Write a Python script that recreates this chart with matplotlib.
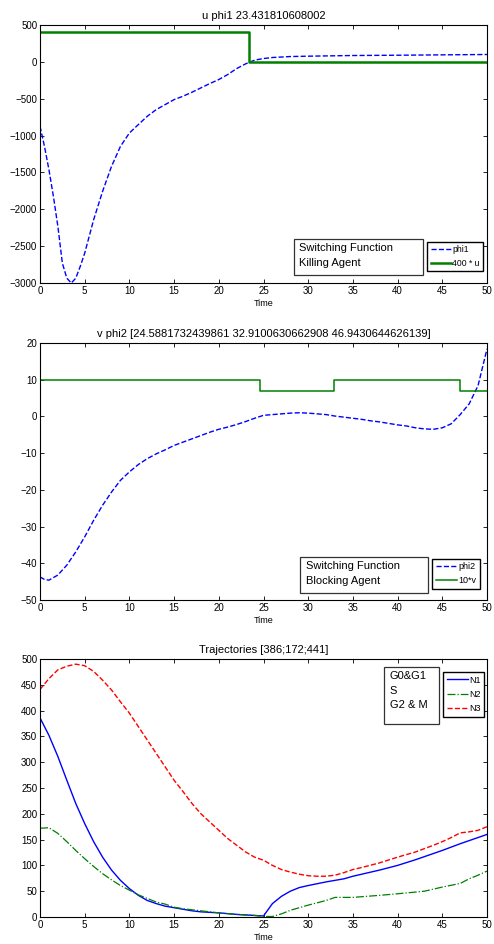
import matplotlib
matplotlib.use('Agg')
import matplotlib.pyplot as plt
from matplotlib.patches import Rectangle

plt.rcParams['font.family'] = ['Liberation Sans', 'DejaVu Sans']

# panel 1: switching function phi1 and 400*u
t1 = [0, 0.5, 1, 1.5, 2, 2.5, 3, 3.5, 4, 4.5, 5, 6, 7, 8, 9, 10, 11, 12, 13, 14, 15, 16,
      17, 18, 19, 20, 21, 22, 23, 24, 25, 26, 28, 30, 35, 40, 45, 50]
phi1 = [-874, -1146, -1463, -1825, -2233, -2730, -2935, -3000, -2935, -2776, -2595, -2142,
        -1757, -1418, -1146, -965, -851, -738, -648, -580, -512, -466, -412, -353, -294,
        -240, -172, -91, -27, 23, 45, 59, 72, 77, 86, 90, 95, 100]
u_t = [0, 23.431810608002, 23.431810608002, 50]
u_val = [400, 400, 0, 0]

# panel 2: switching function phi2 and 10*v
t2 = [0, 0.5, 1, 2, 3, 4, 5, 6, 7, 8, 9, 10, 11, 12, 13, 14, 15, 16, 17, 18, 19, 20, 21,
      22, 23, 24, 25, 26, 27, 28, 29, 30, 31, 32, 33, 34, 35, 36, 37, 38, 39, 40, 41, 42,
      43, 44, 45, 46, 47, 48, 49, 50]
phi2 = [-43.7, -44.4, -44.6, -43.2, -40.5, -36.9, -32.8, -28.3, -24.2, -20.6, -17.4, -15.1,
        -13.1, -11.5, -10.2, -9.1, -7.9, -7.0, -6.1, -5.2, -4.3, -3.5, -2.9, -2.2, -1.4,
        -0.5, 0.3, 0.5, 0.7, 0.9, 1.0, 0.9, 0.7, 0.5, 0.1, -0.2, -0.5, -0.8, -1.2, -1.5,
        -1.9, -2.3, -2.6, -3.1, -3.4, -3.5, -3.1, -2.0, 0.5, 3.4, 8.4, 18.4]
sw = [24.5881732439861, 32.9100630662908, 46.9430644626139]
v_t = [0, sw[0], sw[0], sw[1], sw[1], sw[2], sw[2], 50]
v_val = [10, 10, 7, 7, 10, 10, 7, 7]

# panel 3: trajectories
t3 = [0, 1, 2, 3, 4, 5, 6, 7, 8, 9, 10, 11, 12, 13, 14, 15, 16, 17, 18, 20, 22, 24, 25,
      26, 27, 28, 29, 30, 32, 34, 35, 38, 40, 42, 45, 47, 50]
n1 = [386, 352, 311, 265, 220, 181, 146, 116, 91, 71, 55, 42, 32, 26, 21, 18, 15, 12, 10,
      8, 5, 3, 2, 26, 40, 50, 57, 61, 68, 74, 79, 91, 100, 111, 129, 142, 160]
t3b = [0, 1, 2, 3, 4, 5, 6, 7, 8, 9, 10, 11, 12, 13, 14, 15, 16, 18, 20, 22, 24, 25, 26,
       27, 28, 30, 32, 33, 35, 38, 40, 43, 45, 47, 48, 49, 50]
n2 = [172, 173, 162, 146, 129, 113, 98, 84, 72, 61, 52, 43, 36, 29, 25, 19, 16, 12, 8, 5,
      3, 1, 1, 6, 13, 23, 32, 38, 38, 42, 45, 50, 58, 65, 74, 81, 89]
t3c = [0, 1, 2, 3, 4, 5, 6, 7, 8, 9, 10, 11, 12, 13, 14, 15, 16, 17, 18, 19, 20, 21, 22,
       23, 24, 25, 26, 27, 28, 29, 30, 31, 32, 33, 34, 35, 36, 38, 40, 42, 44, 45, 46, 47,
       48, 49, 50]
n3 = [441, 462, 479, 486, 490, 487, 476, 459, 440, 417, 395, 369, 343, 317, 291, 265, 243,
      220, 200, 184, 168, 152, 139, 126, 116, 110, 100, 92, 87, 83, 80, 79, 79, 81, 86, 92,
      96, 105, 116, 126, 139, 146, 154, 163, 165, 168, 175]

W, H = 494, 944
fig = plt.figure(figsize=(W / 100, H / 100), dpi=100)


def make_axes(top, bottom):
    ax = fig.add_axes([40 / W, 1 - bottom / H, 447 / W, (bottom - top) / H])
    ax.set_xlim(0, 50)
    ax.set_xticks(range(0, 51, 5))
    ax.tick_params(direction='in', top=True, right=True, labelsize=7, length=3,
                   width=0.6, pad=2)
    for s in ax.spines.values():
        s.set_linewidth(0.8)
    ax.set_xlabel('Time', fontsize=6.5, labelpad=2)
    return ax


def note(ax, x0, y0, x1, y1, text):
    ax.add_patch(Rectangle((x0, y0), x1 - x0, y1 - y0, transform=ax.transAxes,
                           facecolor='white', edgecolor='#333333', lw=0.9, zorder=5))
    ax.text(x0 + 0.012, y1 - 0.015, text, transform=ax.transAxes, fontsize=8,
            va='top', ha='left', linespacing=1.6, zorder=6)


def legend(ax, x, y, fs, sp):
    lg = ax.legend(loc='upper left', bbox_to_anchor=(x, y), fontsize=fs, fancybox=False,
                   framealpha=1, edgecolor='black', handlelength=2.4, handletextpad=0.1,
                   borderpad=0.4, labelspacing=sp, borderaxespad=0)
    lg.get_frame().set_linewidth(1.0)
    lg.set_zorder(7)


# panel 1
ax1 = make_axes(25, 283)
ax1.plot(t1, phi1, '--', color='#0000ff', lw=1.0, label='phi1')
ax1.plot(u_t, u_val, '-', color='#008000', lw=1.8, label='400 * u')
ax1.set_ylim(-3000, 500)
ax1.set_yticks(range(-3000, 501, 500))
ax1.set_title('u phi1 23.431810608002', fontsize=8, pad=4)
note(ax1, 0.568, 0.031, 0.857, 0.171, 'Switching Function\nKilling Agent')
legend(ax1, 0.866, 0.159, 6.2, 0.5)

# panel 2
ax2 = make_axes(343, 600)
ax2.plot(t2, phi2, '--', color='#0000ff', lw=1.0, label='phi2')
ax2.plot(v_t, v_val, '-', color='#008000', lw=1.1, label='10*v')
ax2.set_ylim(-50, 20)
ax2.set_yticks(range(-50, 21, 10))
ax2.set_title('v phi2 [24.5881732439861 32.9100630662908 46.9430644626139]', fontsize=8, pad=4)
note(ax2, 0.582, 0.027, 0.868, 0.167, 'Switching Function\nBlocking Agent')
legend(ax2, 0.877, 0.160, 6.5, 0.5)

# panel 3
ax3 = make_axes(659, 917)
ax3.plot(t3, n1, '-', color='#0000ff', lw=1.0, label='N1')
ax3.plot(t3b, n2, '-.', color='#008000', lw=0.9, label='N2')
ax3.plot(t3c, n3, '--', color='#ff0000', lw=1.0, label='N3')
ax3.set_ylim(0, 500)
ax3.set_yticks(range(0, 501, 50))
ax3.set_title('Trajectories [386;172;441]', fontsize=8, pad=4)
note(ax3, 0.770, 0.748, 0.893, 0.969, 'G0&G1\nS\nG2 & M')
legend(ax3, 0.902, 0.950, 6.5, 0.6)

fig.savefig('out.png', dpi=100)
